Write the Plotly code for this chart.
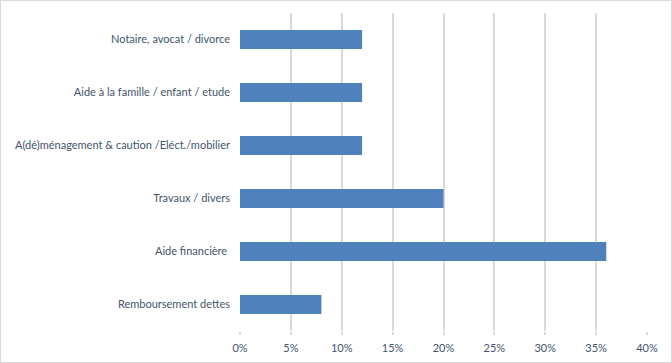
import plotly.graph_objects as go

categories = [
    "Remboursement dettes",
    "Aide financière ",
    "Travaux / divers",
    "A(dé)ménagement & caution /Eléct./mobilier",
    "Aide à la famille / enfant / etude",
    "Notaire, avocat / divorce",
]
values = [0.08, 0.36, 0.20, 0.12, 0.12, 0.12]
tick_vals = [0, 0.05, 0.10, 0.15, 0.20, 0.25, 0.30, 0.35, 0.40]
tick_text = ["0%", "5%", "10%", "15%", "20%", "25%", "30%", "35%", "40%"]

W, H = 672, 363
ML, MR, MT, MB = 240, 25, 13, 32
pw, ph = W - ML - MR, H - MT - MB

fig = go.Figure(go.Bar(
    x=values, y=categories, orientation="h",
    marker=dict(color="#4F81BD", line=dict(width=0)),
    width=0.36,
))

def px2paper_x(px):
    return (px - ML) / pw

def px2paper_y(py):
    return (H - MB - py) / ph

fig.update_layout(
    width=W, height=H,
    margin=dict(l=ML, r=MR, t=MT, b=MB, pad=0, autoexpand=False),
    paper_bgcolor="white", plot_bgcolor="white",
    font=dict(family="Lato, sans-serif", size=11, color="#44546A"),
    showlegend=False,
    xaxis=dict(
        range=[0, 0.40], tickvals=tick_vals, ticktext=tick_text,
        showgrid=True, gridcolor="#D9D9D9", gridwidth=1.5,
        zeroline=False, showline=False,
        ticks="outside", ticklen=3, tickcolor="#D9D9D9", tickwidth=1.5,
        fixedrange=True, ticklabelstandoff=4,
        tickfont=dict(size=11, color="#44546A"), automargin=False,
    ),
    yaxis=dict(
        showgrid=False, zeroline=False, showline=False, ticks="",
        ticklabelstandoff=9, tickfont=dict(size=11, color="#44546A"),
        range=[-0.5, 5.5], automargin=False, fixedrange=True,
    ),
    shapes=[dict(
        type="rect", xref="paper", yref="paper",
        x0=px2paper_x(0.5), x1=px2paper_x(W - 0.5),
        y0=px2paper_y(H - 0.5), y1=px2paper_y(0.5),
        line=dict(color="#D9D9D9", width=1), fillcolor="rgba(0,0,0,0)",
        layer="below",
    )],
)

fig.write_html(
    "out.html",
    config={"displayModeBar": False},
    post_script="document.body.style.margin='0';document.body.style.overflow='hidden';",
)
